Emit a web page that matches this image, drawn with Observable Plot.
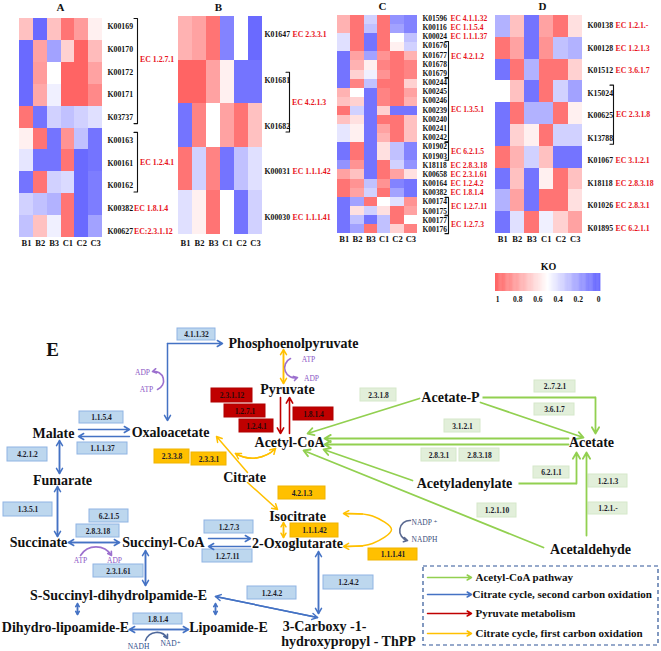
<!DOCTYPE html>
<html><head><meta charset="utf-8">
<script src="https://cdn.jsdelivr.net/npm/d3@7"></script>
<script src="https://cdn.jsdelivr.net/npm/@observablehq/plot@0.6"></script>
<style>body{margin:0;background:#fff}#chart{width:661px;height:651px}svg text{font-family:'Liberation Serif','DejaVu Serif',serif}</style>
</head><body><div id="chart"></div>
<script>
// ---------------- DATA ----------------
const columns = ["B1","B2","B3","C1","C2","C3"];

const koA = ["K00169","K00170","K00172","K00171","K03737","K00163","K00161","K00162","K00382","K00627"];
const valuesA = [
 [0.70,0.02,0.70,0.95,0.82,0.55],
 [0.02,0.80,0.20,0.65,1.00,0.72],
 [0.02,0.82,0.50,1.00,1.00,0.80],
 [0.02,0.78,0.45,1.00,1.00,0.88],
 [0.95,0.05,0.35,0.30,0.35,0.40],
 [0.55,0.95,0.05,0.85,0.30,0.05],
 [0.42,0.05,0.05,0.95,0.02,0.05],
 [0.05,0.95,0.35,0.38,0.02,0.08],
 [0.35,0.30,0.25,0.95,0.02,0.08],
 [0.30,0.70,0.45,0.95,0.02,0.20]
];
const ecA = [
 {from:0,to:4,label:"EC 1.2.7.1",at:1.45},
 {from:5,to:7,label:"EC 1.2.4.1"},
 {from:8,label:"EC 1.8.1.4"},
 {from:9,label:"EC:2.3.1.12"}
];

const koB = ["K01647","K01681","K01682","K00031","K00030"];
const valuesB = [
 [0.75,0.80,0.95,0.10,0.50,0.02],
 [1.00,1.00,0.80,0.55,0.05,0.05],
 [0.05,0.90,0.50,0.80,0.95,0.70],
 [0.95,0.35,0.90,0.05,0.30,0.40],
 [0.40,0.55,0.95,0.50,0.05,0.35]
];
const ecB = [
 {from:0,label:"EC 2.3.3.1"},
 {from:1,to:2,label:"EC 4.2.1.3"},
 {from:3,label:"EC 1.1.1.42"},
 {from:4,label:"EC 1.1.1.41"}
];

const koC = ["K01596","K00116","K00024","K01676","K01677","K01678","K01679","K00244","K00245","K00246","K00239","K00240","K00241","K00242","K01902","K01903","K18118","K00658","K00164","K00382","K00174","K00175","K00177","K00176"];
const valuesC = [
 [0.75,0.95,0.35,0.95,0.15,0.10],
 [0.75,0.95,0.30,0.95,0.20,0.10],
 [0.40,0.95,0.05,0.95,0.50,0.30],
 [0.40,0.95,0.05,0.95,0.55,0.35],
 [0.05,0.80,0.20,0.85,0.95,0.75],
 [0.05,0.75,0.55,0.90,0.95,0.90],
 [0.05,0.65,0.45,0.85,0.95,0.90],
 [0.05,0.90,0.30,0.95,0.95,0.65],
 [0.75,0.50,0.05,0.90,0.95,0.80],
 [0.70,0.65,0.05,0.90,0.95,0.75],
 [0.95,0.35,0.05,0.65,0.05,0.05],
 [0.70,0.60,0.05,0.95,0.95,0.70],
 [0.42,0.55,0.05,0.80,0.95,0.70],
 [0.42,0.55,0.05,0.75,0.95,0.70],
 [0.05,0.95,0.05,0.60,0.30,0.10],
 [0.05,0.95,0.05,0.60,0.30,0.10],
 [0.15,0.85,0.05,0.95,0.35,0.15],
 [0.80,0.70,0.05,0.95,0.80,0.60],
 [0.95,0.85,0.30,0.85,0.10,0.05],
 [0.95,0.80,0.35,0.95,0.20,0.05],
 [0.05,0.20,0.95,0.50,0.40,0.85],
 [0.05,0.60,0.35,0.60,0.95,0.80],
 [0.05,0.30,0.05,0.30,0.95,0.50],
 [0.05,0.20,0.95,0.30,0.65,0.90]
];
const ecC = [
 {from:0,label:"EC 4.1.1.32"},
 {from:1,label:"EC 1.1.5.4"},
 {from:2,label:"EC 1.1.1.37"},
 {from:3,to:6,label:"EC 4.2.1.2",at:4.2},
 {from:7,to:13,label:"EC 1.3.5.1"},
 {from:14,to:15,label:"EC 6.2.1.5"},
 {from:16,label:"EC 2.8.3.18"},
 {from:17,label:"EC 2.3.1.61"},
 {from:18,label:"EC 1.2.4.2"},
 {from:19,label:"EC 1.8.1.4"},
 {from:20,to:21,label:"EC 1.2.7.11"},
 {from:22,to:23,label:"EC 1.2.7.3"}
];

const koD = ["K00138","K00128","K01512","K15024","K00625","K13788","K01067","K18118","K01026","K01895"];
const valuesD = [
 [0.25,0.70,0.05,0.80,0.95,0.60],
 [0.95,0.80,0.05,0.85,0.30,0.25],
 [0.05,0.95,0.25,0.95,0.95,0.65],
 [0.50,0.70,0.05,0.95,0.35,0.20],
 [0.05,0.95,0.25,0.25,0.95,0.55],
 [0.05,0.65,0.55,0.95,0.35,0.35],
 [0.95,0.75,0.35,0.70,0.05,0.05],
 [0.05,0.70,0.05,0.55,0.95,0.70],
 [0.25,0.80,0.05,0.95,0.95,0.60],
 [0.05,0.40,0.95,0.45,0.65,0.80]
];
const ecD = [
 {from:0,label:"EC 1.2.1.-"},
 {from:1,label:"EC 1.2.1.3"},
 {from:2,label:"EC 3.6.1.7"},
 {from:3,to:5,label:"EC 2.3.1.8"},
 {from:6,label:"EC 3.1.2.1"},
 {from:7,label:"EC 2.8.3.18"},
 {from:8,label:"EC 2.8.3.1"},
 {from:9,label:"EC 6.2.1.1"}
];

const legendTicks = [1,0.8,0.6,0.4,0.2,0];
const legendTitle = "KO";

// Pathway diagram content
const metaboliteNames = ["Phosphoenolpyruvate","Pyruvate","Acetyl-CoA","Oxaloacetate","Malate","Fumarate","Succinate","Succinyl-CoA","2-Oxoglutarate","Isocitrate","Citrate","S-Succinyl-dihydrolpamide-E","Dihydro-lipoamide-E","Lipoamide-E","3-Carboxy -1-","hydroxypropyl - ThPP","Acetate-P","Acetate","Acetyladenylate","Acetaldehyde"];
const enzymeLabels = ["4.1.1.32","1.1.5.4","1.1.1.37","4.2.1.2","1.3.5.1","6.2.1.5","2.8.3.18","2.3.1.61","1.2.7.3","1.2.7.11","1.2.4.2","1.8.1.4","1.2.4.2",
 "2.3.1.12","1.2.7.1","1.2.4.1","1.8.1.4",
 "2.3.3.8","2.3.3.1","4.2.1.3","1.1.1.42","1.1.1.41",
 "2.3.1.8","2..7.2.1","3.6.1.7","3.1.2.1","2.8.3.1","2.8.3.18","6.2.1.1","1.2.1.3","1.2.1.-","1.2.1.10"];
const enzymePathway = ["cit2","cit2","cit2","cit2","cit2","cit2","cit2","cit2","cit2","cit2","cit2","cit2","cit2",
 "pyr","pyr","pyr","pyr",
 "cit1","cit1","cit1","cit1","cit1",
 "acet","acet","acet","acet","acet","acet","acet","acet","acet","acet"];
const cofactorLabels = ["ADP","ATP","ATP","ADP","ATP","ADP","NADP ⁺","NADPH","NADH","NAD⁺"];
const pathwayNames = ["Acetyl-CoA pathway","Citrate cycle, second carbon oxidation","Pyruvate metabolism","Citrate cycle, first carbon oxidation"];
const pathwayKeys = ["acet","cit2","pyr","cit1"];

// ---------------- LAYOUT & STYLE ----------------
const W = 661, H = 651;
const serif = "'Liberation Serif', 'DejaVu Serif', serif";
const heatRange = ["#6464ff","#ffffff","#ff6464"];
const lineColor = {acet:"#92d050", cit2:"#4472c4", pyr:"#c00000", cit1:"#ffc000"};
const boxFill = {acet:"#e2efda", cit2:"#bdd7ee", pyr:"#c00000", cit1:"#ffc000"};
const boxStroke = {acet:"#d5e8ca", cit2:"#8fb4e3", pyr:"#b00000", cit1:"#f0b400"};
const ecRed = "#e8141c";

const geoms = [
 {title:"A", kos:koA, values:valuesA, ecs:ecA, left:19, right:102, top:18, bottom:237, labY:[26,231], titleX:60, titleY:7, colY:243, koX:107, ecX:133.5, brX:137, fs:7.8},
 {title:"B", kos:koB, values:valuesB, ecs:ecB, left:178, right:262, top:16, bottom:234, labY:[34,217], titleX:218, titleY:7, colY:243, koX:264, ecX:292, brX:289, fs:7.8},
 {title:"C", kos:koC, values:valuesC, ecs:ecC, left:337, right:417, top:15, bottom:233, labY:[18,229], titleX:382, titleY:6, colY:239, koX:422, ecX:450, brX:448, fs:7.5},
 {title:"D", kos:koD, values:valuesD, ecs:ecD, left:495, right:582, top:15, bottom:233, labY:[25,228], titleX:542, titleY:6, colY:239, koX:587, ecX:615, brX:613, fs:7.8}
];
const legendBar = {x1:495, x2:600, y1:273, y2:291, labX1:497, labX2:598, labY:299, titleX:548, titleY:266};

const metaboliteLayout = [[293,343],[287,389],[289,442],[170,432],[53,433],[62,480],[38,542],[163,542],[297,543],[297,516],[244,477],[118,595],[65,627],[228,627],[324,626],[348,641],[450,397],[591,442],[464,483],[590,549]];
const enzymeBoxLayout = [
 [177,328,215,340],[79,411,123,423],[77,442,127,454],[7,447,47,461],[3,502,52,516],[89,509,128,522],[76,524,119,537],[93,564,143,577],[204,520,253,533],[202,549,252,562],[247,586,296,599],[133,613,182,624],[323,575,373,589],
 [211,388,252,402],[224,404,265,417],[239,419,273,432],[293,407,333,420],
 [154,449,189,463],[191,452,226,465],[278,486,325,499],[290,523,338,537],[368,548,417,560],
 [360,388,396,401],[534,380,575,392],[534,403,574,415],[444,419,480,432],[421,448,456,461],[459,448,499,461],[533,466,569,478],[588,474,627,487],[588,502,627,514],[477,503,516,517]
];
const cofactorLayout = [[142,372,"#8b57c6"],[146,389,"#8b57c6"],[308,359,"#8b57c6"],[311,378,"#8b57c6"],[80,560,"#8b57c6"],[114,560,"#8b57c6"],[424,522,"#3d4f7c"],[424,539,"#3d4f7c"],[138,646,"#2f4e8a"],[170,643,"#2f4e8a"]];
// connectors: x1,y1,x2,y2, pathway, heads, bend
const connectors = [
 [167,343,167,420,"cit2","end"],[167,343,222,343,"cit2","end"],
 [78,429,129,429,"cit2","end"],[129,436,78,436,"cit2","end"],
 [59,440,59,473,"cit2","both"],[57,486,57,536,"cit2","both"],
 [68,542,119,542,"cit2","both"],[145,550,145,585,"cit2","both"],
 [208,538,250,538,"cit2","end"],[250,546,208,546,"cit2","end"],
 [318,551,318,613,"cit2","both"],[317,617,215,596,"cit2","both"],
 [77,603,77,614,"cit2","both"],[215,603,215,614,"cit2","both"],[129,629,188,629,"cit2","both"],
 [280,397,280,433,"pyr","end"],[289,433,289,397,"pyr","end"],
 [283,349,283,383,"cit1","both"],[247,472,216,436,"cit1","end"],[247,482,277,509,"cit1","end"],
 [283,522,283,537,"cit1","both"],[235,453,275,448,"cit1","both",-38],
 [482,397,595,397,"acet","none"],[595,397,595,433,"acet","end"],
 [419,398,307,433,"acet","end"],[480,402,583,437,"acet","end"],
 [568,438,324,438,"acet","end"],[568,444,324,444,"acet","end"],
 [412,480,323,449,"acet","end"],[518,483,576,483,"acet","none"],[576,483,576,452,"acet","end"],
 [586,535,586,452,"acet","end"],[543,547,303,450,"acet","end"]
];
const isoCurve = [[347,513],[372,515.5],[391,529],[372,543],[347,546]];
const isoHeads = [[362,513.6,343,513],[362,545.4,343,546]];
const cofactorArcs = [
 [157,389,152,371,"#8b57c6",-85],[290,358,297,377,"#8b57c6",-85],[80,555,111,555,"#8b57c6",58],
 [145,640,167,638,"#2f4e8a",65],[410,520,407,540,"#3d4f7c",-85]
];
const legendBox = {x1:423, x2:658, y1:566, y2:645};
const legendRows = [577,594,613,633];

// ---------------- MARKS ----------------
const marks = [];
const T = (data, o) => Plot.text(data, Object.assign({fontFamily: serif, fontWeight: "bold", fill: "#111"}, o));

for (const g of geoms) {
  const n = g.kos.length, cw = (g.right - g.left) / columns.length, rh = (g.bottom - g.top) / n;
  const step = (g.labY[1] - g.labY[0]) / (n - 1);
  const ly = i => g.labY[0] + i * step;
  const cells = [];
  g.values.forEach((row, i) => row.forEach((v, j) => cells.push({
    x1: g.left + j * cw, x2: g.left + (j + 1) * cw, y1: g.top + i * rh, y2: g.top + (i + 1) * rh, v})));
  marks.push(Plot.rect(cells, {x1:"x1", x2:"x2", y1:"y1", y2:"y2", fill:"v", shapeRendering:"crispEdges"}));
  marks.push(T([g.title], {x: g.titleX, y: g.titleY, text: d => d, fontSize: 11}));
  marks.push(T(columns, {x: (d, j) => g.left + (j + 0.5) * cw, y: g.colY, text: d => d, fontSize: 8.5}));
  marks.push(T(g.kos, {x: g.koX, y: (d, i) => ly(i), text: d => d, fontSize: g.fs, textAnchor: "start"}));
  const singles = g.ecs.filter(e => e.to === undefined);
  const groups = g.ecs.filter(e => e.to !== undefined);
  marks.push(T(singles, {x: g.ecX, y: e => ly(e.from), text: "label", fontSize: g.fs, textAnchor: "start", fill: ecRed}));
  const br = [], gy = [];
  groups.forEach((e, k) => {
    const ya = ly(e.from) - Math.min(8, 0.5 * step), yb = ly(e.to) + Math.min(6, 0.45 * step);
    br.push({x: g.brX - 3.5, y: ya, k}, {x: g.brX, y: ya, k}, {x: g.brX, y: yb, k}, {x: g.brX - 3.5, y: yb, k});
    gy.push(e.at !== undefined ? ly(e.at) : (ya + yb) / 2);
  });
  marks.push(T(groups, {x: g.brX + 2.5, y: (e, k) => gy[k], text: "label", fontSize: g.fs, textAnchor: "start", fill: ecRed}));
  marks.push(Plot.line(br, {x:"x", y:"y", z:"k", stroke:"#111", strokeWidth: 1.1}));
}

// colour legend
const steps = d3.range(0, 120).map(i => i / 119);
const bw = (legendBar.x2 - legendBar.x1) / steps.length;
marks.push(Plot.rect(steps, {x1: (d, i) => legendBar.x1 + i * bw, x2: (d, i) => legendBar.x1 + (i + 1) * bw + 0.4, y1: legendBar.y1, y2: legendBar.y2, fill: d => 1 - d}));
marks.push(T([legendTitle], {x: legendBar.titleX, y: legendBar.titleY, text: d => d, fontSize: 10}));
marks.push(T(legendTicks, {x: d => legendBar.labX1 + (1 - d) * (legendBar.labX2 - legendBar.labX1), y: legendBar.labY, text: d => String(d), fontSize: 7.5}));

// panel E label
marks.push(T(["E"], {x: 52, y: 349, text: d => d, fontSize: 19}));

// enzyme boxes
for (const pw of pathwayKeys) {
  const idx = enzymeLabels.map((d, i) => i).filter(i => enzymePathway[i] === pw);
  marks.push(Plot.rect(idx, {x1: i => enzymeBoxLayout[i][0], y1: i => enzymeBoxLayout[i][1], x2: i => enzymeBoxLayout[i][2], y2: i => enzymeBoxLayout[i][3], fill: boxFill[pw], stroke: boxStroke[pw], strokeWidth: 1}));
  marks.push(T(idx, {x: i => (enzymeBoxLayout[i][0] + enzymeBoxLayout[i][2]) / 2, y: i => (enzymeBoxLayout[i][1] + enzymeBoxLayout[i][3]) / 2 + 0.5, text: i => enzymeLabels[i], fontSize: 7.5, fill: pw === "pyr" ? "#2a0a0a" : "#1b1b2a"}));
}

// connectors
const arrowRecs = [], plainRecs = [];
for (const [x1, y1, x2, y2, pw, heads, bend = 0] of connectors) {
  if (heads === "none") { plainRecs.push({x1, y1, x2, y2, pw}); continue; }
  arrowRecs.push({x1, y1, x2, y2, pw, bend});
  if (heads === "both") arrowRecs.push({x1: x2, y1: y2, x2: x1, y2: y1, pw, bend: -bend});
}
const sw = {acet: 1.8, cit2: 1.5, pyr: 1.6, cit1: 1.5};
for (const pw of pathwayKeys) {
  marks.push(Plot.link(plainRecs.filter(d => d.pw === pw), {x1:"x1", y1:"y1", x2:"x2", y2:"y2", stroke: lineColor[pw], strokeWidth: sw[pw]}));
  const bends = [...new Set(arrowRecs.filter(d => d.pw === pw).map(d => d.bend))];
  for (const b of bends) {
    marks.push(Plot.arrow(arrowRecs.filter(d => d.pw === pw && d.bend === b), {x1:"x1", y1:"y1", x2:"x2", y2:"y2", bend: b, stroke: lineColor[pw], strokeWidth: sw[pw], headLength: 6}));
  }
}
marks.push(Plot.line(isoCurve, {x: d => d[0], y: d => d[1], curve: "catmull-rom", stroke: lineColor.cit1, strokeWidth: 1.5}));
marks.push(Plot.arrow(isoHeads, {x1: d => d[0], y1: d => d[1], x2: d => d[2], y2: d => d[3], stroke: lineColor.cit1, strokeWidth: 1.5, headLength: 6}));
for (const [x1, y1, x2, y2, c, b] of cofactorArcs) {
  marks.push(Plot.arrow([0], {x1, y1, x2, y2, bend: b, stroke: c, strokeWidth: 1.6, headLength: 4, strokeOpacity: 0.85}));
}

// metabolite names & cofactors
marks.push(T(metaboliteNames, {x: (d, i) => metaboliteLayout[i][0], y: (d, i) => metaboliteLayout[i][1], text: d => d, fontSize: 14}));
marks.push(Plot.text(cofactorLabels, {x: (d, i) => cofactorLayout[i][0], y: (d, i) => cofactorLayout[i][1], text: d => d, fill: (d, i) => cofactorLayout[i][2], fontFamily: serif, fontSize: 7.5}));

// pathway legend
marks.push(Plot.rect([legendBox], {x1:"x1", x2:"x2", y1:"y1", y2:"y2", fill: "none", stroke: "#2f5597", strokeWidth: 1.2, strokeDasharray: "4,3"}));
pathwayKeys.forEach((pw, i) => {
  marks.push(Plot.arrow([0], {x1: 427, y1: legendRows[i], x2: 471, y2: legendRows[i], stroke: lineColor[pw], strokeWidth: 1.5, headLength: 5}));
});
marks.push(T(pathwayNames, {x: (d, i) => i === 1 ? 472 : 475, y: (d, i) => legendRows[i], text: d => d, fontSize: 11, textAnchor: "start"}));

const chart = Plot.plot({
  width: W, height: H, margin: 0,
  x: {type: "linear", domain: [0, W], range: [0, W], axis: null},
  y: {type: "linear", domain: [0, H], range: [0, H], axis: null},
  color: {type: "linear", domain: [0, 1], interpolate: d3.piecewise(d3.interpolateRgb, heatRange)},
  style: {background: "#fff", overflow: "visible", fontFamily: serif},
  marks
});
document.getElementById("chart").appendChild(chart);
</script></body></html>
